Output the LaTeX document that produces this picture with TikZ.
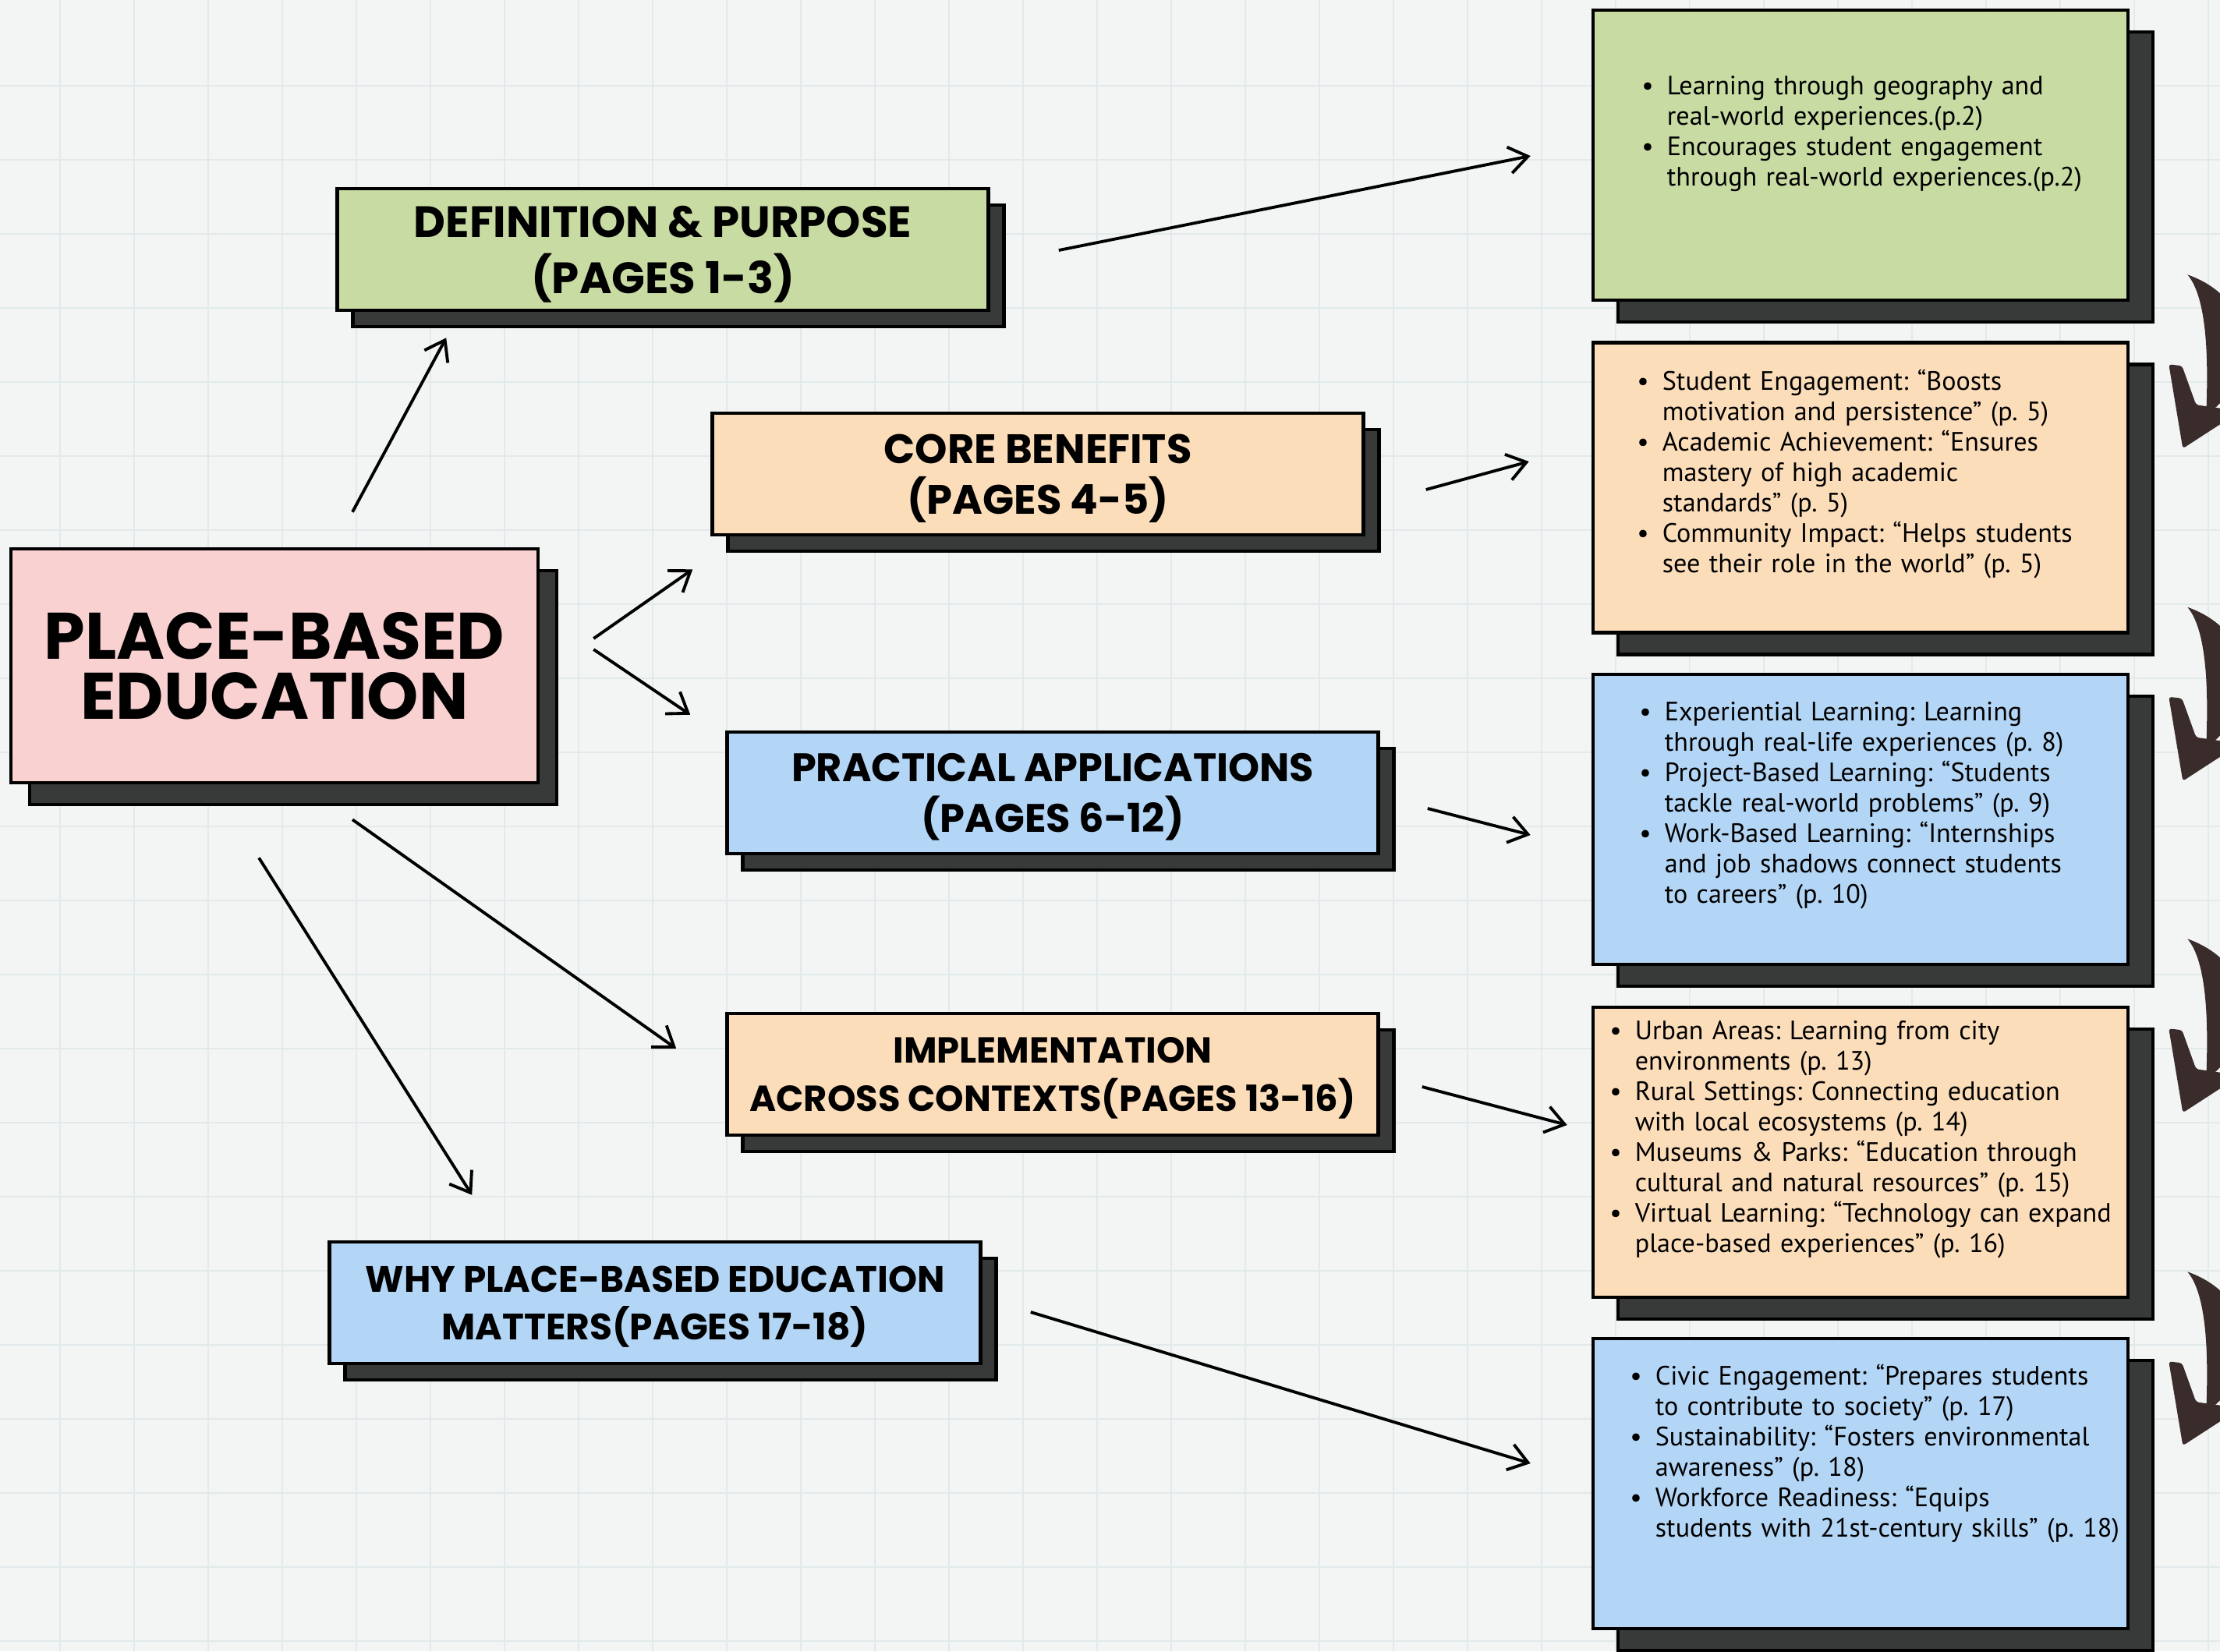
\documentclass[tikz,border=0pt]{standalone}
\usepackage{fontspec}
\setsansfont{Poppins}
\newfontfamily\notefont{PT Sans}
\usetikzlibrary{
    arrows.meta,
    shadows,
    positioning
}

\definecolor{paper}{HTML}{F3F5F5}
\definecolor{gridline}{HTML}{E1E9EB}
\definecolor{pinkbox}{HTML}{F9D1D1}
\definecolor{greenbox}{HTML}{C8DBA3}
\definecolor{peachbox}{HTML}{FCDDBA}
\definecolor{bluebox}{HTML}{B4D6F6}
\definecolor{shadowgrey}{HTML}{383A3A}
\definecolor{curlbrown}{HTML}{3B2C2C}

\newcommand{\bitem}[1]{\makebox[0.95em][l]{\textbullet}\begin{tabular}[t]{@{}l@{}}#1\end{tabular}}

\tikzset{
    box/.style={draw=black, line width=1.3pt, inner sep=0pt, align=center,
        font=\sffamily\bfseries\fontsize{14.5}{18.5}\selectfont},
    topic/.style={box, minimum width=8.35cm, minimum height=1.56cm, text depth=0pt,
        drop shadow={shadow xshift=0.2cm, shadow yshift=-0.21cm, fill=shadowgrey,
            draw=black, line width=1.3pt, opacity=1}},
    note/.style={box, minimum width=6.86cm, minimum height=3.72cm,
        drop shadow={shadow xshift=0.32cm, shadow yshift=-0.28cm, fill=shadowgrey,
            draw=black, line width=1.3pt, opacity=1}},
    notetext/.style={anchor=north west, inner sep=0pt, text width=6.6cm, align=left,
        font=\notefont\fontsize{9.7}{11.1}\selectfont,
        execute at begin node={\frenchspacing\setlength{\lineskip}{0pt}}},
    link/.style={-{Straight Barb[length=2.4mm,width=3.4mm]}, line width=1.1pt}
}

\begin{document}
\begin{tikzpicture}
    \useasboundingbox (0, 0) rectangle (28.47, -21.18);
    \clip (0, 0) rectangle (28.47, -21.18);
    \fill[paper] (0, 0) rectangle (28.47, -21.18);
    \foreach \x in {0.77, 1.72, ..., 28.4}
        \draw[gridline, line width=0.6pt] (\x, 0) -- (\x, -21.18);
    \foreach \y in {-1.10, -2.05, ..., -21.1}
        \draw[gridline, line width=0.6pt] (0, \y) -- (28.47, \y);

    % centre and topics
    \node[box, fill=pinkbox, minimum width=6.76cm, minimum height=3.00cm,
        font=\sffamily\bfseries\fontsize{24}{22}\selectfont,
        drop shadow={shadow xshift=0.24cm, shadow yshift=-0.28cm, fill=shadowgrey,
            draw=black, line width=1.3pt, opacity=1}]
        (main) at (3.52, -8.54) {PLACE-BASED\\EDUCATION};
    \node[topic, fill=greenbox, font=\sffamily\bfseries\fontsize{16}{20.5}\selectfont]
        (defn) at (8.50, -3.20) {DEFINITION \& PURPOSE\\(PAGES 1-3)};
    \node[topic, fill=peachbox, font=\sffamily\bfseries\fontsize{15}{18.5}\selectfont]
        (core) at (13.31, -6.08) {CORE BENEFITS\\(PAGES 4-5)};
    \node[topic, fill=bluebox] (prac) at (13.50, -10.17) {PRACTICAL APPLICATIONS\\(PAGES 6-12)};
    \node[topic, fill=peachbox, font=\sffamily\bfseries\fontsize{13.2}{17.5}\selectfont]
        (impl) at (13.50, -13.78) {IMPLEMENTATION\\ACROSS CONTEXTS(PAGES 13-16)};
    \node[topic, fill=bluebox, font=\sffamily\bfseries\fontsize{13.4}{17.5}\selectfont]
        (why) at (8.40, -16.71) {WHY PLACE-BASED EDUCATION\\MATTERS(PAGES 17-18)};

    % detail boxes
    \node[note, fill=greenbox] (r1) at (23.86, -1.99) {};
    \node[note, fill=peachbox] (r2) at (23.86, -6.255) {};
    \node[note, fill=bluebox] (r3) at (23.86, -10.51) {};
    \node[note, fill=peachbox] (r4) at (23.86, -14.78) {};
    \node[note, fill=bluebox] (r5) at (23.86, -19.03) {};

    \node[notetext] (t1) at ([shift={(0.64, -0.83)}]r1.north west) {%
        \bitem{Learning through geography and\\real-world experiences.(p.2)}\\
        \bitem{Encourages student engagement\\through real-world experiences.(p.2)}};
    \node[notetext] (t2) at ([shift={(0.58, -0.35)}]r2.north west) {%
        \bitem{Student Engagement: “Boosts\\motivation and persistence” (p. 5)}\\
        \bitem{Academic Achievement: “Ensures\\mastery of high academic\\standards” (p. 5)}\\
        \bitem{Community Impact: “Helps students\\see their role in the world” (p. 5)}};
    \node[notetext] (t3) at ([shift={(0.61, -0.34)}]r3.north west) {%
        \bitem{Experiential Learning: Learning\\through real-life experiences (p. 8)}\\
        \bitem{Project-Based Learning: “Students\\tackle real-world problems” (p. 9)}\\
        \bitem{Work-Based Learning: “Internships\\and job shadows connect students\\to careers” (p. 10)}};
    \node[notetext] (t4) at ([shift={(0.23, -0.16)}]r4.north west) {%
        \bitem{Urban Areas: Learning from city\\environments (p. 13)}\\
        \bitem{Rural Settings: Connecting education\\with local ecosystems (p. 14)}\\
        \bitem{Museums \& Parks: “Education through\\cultural and natural resources” (p. 15)}\\
        \bitem{Virtual Learning: “Technology can expand\\place-based experiences” (p. 16)}};
    \node[notetext] (t5) at ([shift={(0.49, -0.34)}]r5.north west) {%
        \bitem{Civic Engagement: “Prepares students\\to contribute to society” (p. 17)}\\
        \bitem{Sustainability: “Fosters environmental\\awareness” (p. 18)}\\
        \bitem{Workforce Readiness: “Equips\\students with 21st-century skills” (p. 18)}};

    % arrows
    \draw[link] ([shift={(1.00, 0.45)}]main.north) -- ([shift={(1.42, -0.33)}]defn.south west);
    \draw[link] ([shift={(0.69, 0.35)}]main.east) -- ([shift={(-0.23, -0.42)}]core.south west);
    \draw[link] ([shift={(0.69, 0.21)}]main.east) -- ([shift={(-0.45, 0.20)}]prac.north west);
    \draw[link] ([shift={(1.00, -0.45)}]main.south) -- ([shift={(-0.63, 0.33)}]impl.west);
    \draw[link] ([shift={(-0.20, -0.94)}]main.south) -- ([shift={(1.85, 0.58)}]why.north west);
    \draw[link] ([shift={(0.88, -0.01)}]defn.east) -- ([shift={(-0.78, -0.01)}]r1.west);
    \draw[link] ([shift={(0.78, -0.20)}]core.east) -- ([shift={(-0.80, 0.335)}]r2.west);
    \draw[link] ([shift={(0.61, -0.20)}]prac.east) -- ([shift={(-0.78, -0.20)}]r3.west);
    \draw[link] ([shift={(0.54, -0.16)}]impl.east) -- ([shift={(-0.31, 0.35)}]r4.west);
    \draw[link] ([shift={(0.62, -0.12)}]why.east) -- ([shift={(-0.78, 0.26)}]r5.west);

    % curly arrows down the right edge
    \foreach \i in {1, ..., 4} {
        \begin{scope}[shift={(r\i.south east)}]
            \fill[curlbrown] (0.74, 0.35) .. controls (1.60, 0.05) and (1.74, -0.90) .. (0.98, -1.45)
                .. controls (1.00, -0.90) and (1.02, 0.02) .. (0.74, 0.35);
            \fill[curlbrown, rounded corners=1pt] (0.50, -0.80) -- (0.67, -0.82) -- (0.85, -1.32)
                -- (1.42, -1.40) -- (0.68, -1.88) -- cycle;
        \end{scope}
    }
\end{tikzpicture}
\end{document}
